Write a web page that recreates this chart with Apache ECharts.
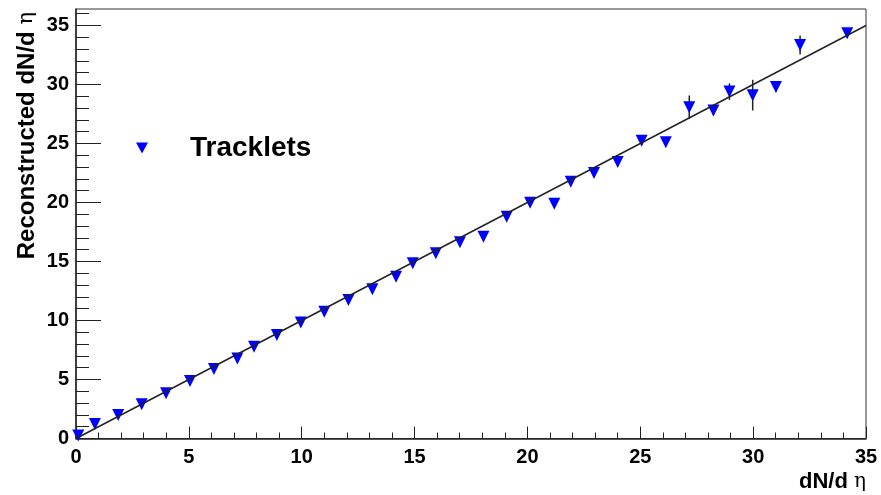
<!DOCTYPE html>
<html>
<head>
<meta charset="utf-8">
<script src="https://cdn.jsdelivr.net/npm/echarts@6/dist/echarts.min.js"></script>
<style>html,body{margin:0;padding:0;background:#fff;}#c{width:881px;height:495px;}</style>
</head>
<body>
<div id="c"></div>
<script>
// Data
var trueMult = [0.1, 0.84, 1.87, 2.91, 3.99, 5.05, 6.11, 7.15, 7.89, 8.9, 9.96, 11.0, 12.07, 13.13, 14.18, 14.92, 15.94, 17.01, 18.05, 19.08, 20.12, 21.19, 21.92, 22.95, 24.0, 25.06, 26.13, 27.17, 28.24, 28.95, 29.98, 31.01, 32.08, 34.17];
var recoMult = [0.25, 1.23, 1.99, 2.9, 3.83, 4.87, 5.89, 6.79, 7.78, 8.77, 9.84, 10.75, 11.74, 12.64, 13.71, 14.85, 15.69, 16.64, 17.1, 18.8, 19.98, 19.9, 21.77, 22.5, 23.43, 25.24, 25.1, 28.07, 27.8, 29.4, 29.1, 29.8, 33.35, 34.34];
var recoErr  = [0.1, 0.1, 0.1, 0.1, 0.1, 0.1, 0.1, 0.1, 0.1, 0.15, 0.15, 0.15, 0.15, 0.15, 0.15, 0.2, 0.2, 0.2, 0.2, 0.2, 0.2, 0.25, 0.25, 0.25, 0.3, 0.3, 0.3, 1.0, 0.4, 0.7, 1.3, 0.4, 0.8, 0.4];
var fitX = [0, 35];
var fitY = [0, 35];
var seriesName = 'Tracklets';
var yMajorTicks = [0, 5, 10, 15, 20, 25, 30, 35];
var yMinorTicks = [1,2,3,4,6,7,8,9,11,12,13,14,16,17,18,19,21,22,23,24,26,27,28,29,31,32,33,34,36];

var pts = trueMult.map(function (x, i) { return [x, recoMult[i]]; });
var errData = trueMult.map(function (x, i) { return [x, recoMult[i] - recoErr[i], recoMult[i] + recoErr[i]]; });
var fitData = fitX.map(function (x, i) { return [x, fitY[i]]; });

var FONT = 'Liberation Sans, Arial, Helvetica, sans-serif';
var chart = echarts.init(document.getElementById('c'), null, {renderer: 'canvas'});
chart.setOption({
  animation: false,
  backgroundColor: '#fff',
  grid: {left: 76, right: 15, top: 9, bottom: 56.5, show: true, borderColor: '#333', borderWidth: 1, backgroundColor: 'transparent'},
  legend: {
    data: [seriesName], left: 131, top: 129, itemWidth: 86, itemHeight: 11, itemGap: 5,
    icon: 'path://M0,0 L12,0 L6,11 Z',
    textStyle: {fontFamily: FONT, fontWeight: 'bold', fontSize: 28, color: '#000'}
  },
  xAxis: {
    type: 'value', min: 0, max: 35, interval: 5,
    name: '{a|dN/d }{b|η}', nameLocation: 'end', nameGap: 0,
    nameTextStyle: {align: 'right', verticalAlign: 'top', padding: [32, 0, 0, 0],
      rich: {a: {fontFamily: FONT, fontWeight: 'bold', fontSize: 22, color: '#000'},
             b: {fontFamily: 'DejaVu Serif, serif', fontSize: 20, color: '#000'}}},
    axisLine: {show: true, onZero: false, lineStyle: {color: '#222', width: 1.5}},
    axisTick: {show: true, inside: true, length: 12, lineStyle: {color: '#222', width: 1}},
    minorTick: {show: true, splitNumber: 5, length: 6, lineStyle: {color: '#222', width: 1}},
    splitLine: {show: false},
    axisLabel: {margin: 9, fontFamily: FONT, fontWeight: 'bold', fontSize: 20, color: '#000'}
  },
  yAxis: [{
    type: 'value', min: 0, max: 36.4,
    name: '{a|Reconstructed dN/d }{b|η}', nameLocation: 'end', nameRotate: 90, nameGap: -3,
    nameTextStyle: {align: 'right', verticalAlign: 'bottom', padding: [0, 0, 37, 0],
      rich: {a: {fontFamily: FONT, fontWeight: 'bold', fontSize: 24, color: '#000'},
             b: {fontFamily: 'DejaVu Serif, serif', fontSize: 21, color: '#000'}}},
    axisLine: {show: true, onZero: false, lineStyle: {color: '#222', width: 1.5}},
    axisTick: {show: true, inside: true, length: 25, customValues: yMajorTicks, lineStyle: {color: '#222', width: 1}},
    splitLine: {show: false},
    axisLabel: {margin: 7, customValues: yMajorTicks, fontFamily: FONT, fontWeight: 'bold', fontSize: 20, color: '#000'}
  }, {
    type: 'value', min: 0, max: 36.4, position: 'left',
    axisLine: {show: false},
    axisTick: {show: true, inside: true, length: 13, customValues: yMinorTicks, lineStyle: {color: '#222', width: 1}},
    axisLabel: {show: false},
    splitLine: {show: false}
  }],
  series: [{
    type: 'custom', name: 'err', yAxisIndex: 0, silent: true, z: 2,
    data: errData,
    renderItem: function (params, api) {
      var p1 = api.coord([api.value(0), api.value(1)]);
      var p2 = api.coord([api.value(0), api.value(2)]);
      return {type: 'line', shape: {x1: p1[0], y1: p1[1], x2: p2[0], y2: p2[1]}, style: {stroke: '#222', lineWidth: 1.5}};
    }
  }, {
    type: 'scatter', name: seriesName, yAxisIndex: 0, z: 3,
    data: pts, symbol: 'path://M0,0 L12,0 L6,11 Z', symbolSize: [12, 12],
    itemStyle: {color: '#0000ff', opacity: 1}
  }, {
    type: 'line', name: 'fit', yAxisIndex: 0, z: 4, data: fitData, showSymbol: false, symbol: 'none',
    lineStyle: {color: '#222', width: 1.5}, silent: true
  }]
});
</script>
</body>
</html>
